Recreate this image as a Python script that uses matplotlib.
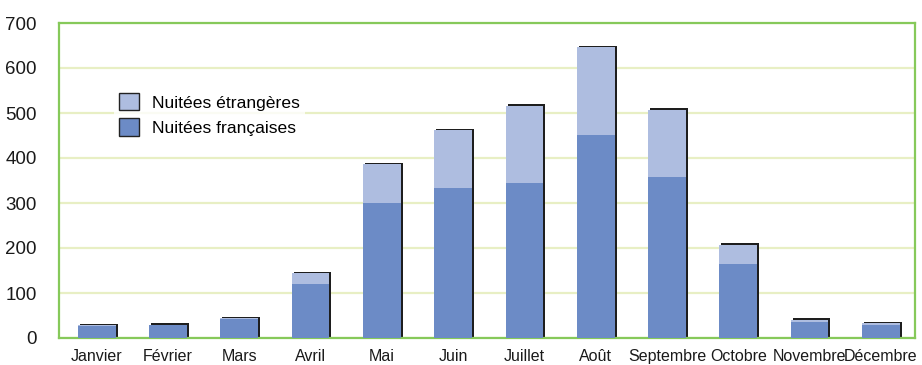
import matplotlib.pyplot as plt
import matplotlib.transforms as mtransforms
from matplotlib.patches import Patch
import numpy as np

plt.rcParams['font.family'] = ['Liberation Sans', 'DejaVu Sans']

# Nuitées par mois (milliers)
mois = ['Janvier', 'Février', 'Mars', 'Avril', 'Mai', 'Juin', 'Juillet',
        'Août', 'Septembre', 'Octobre', 'Novembre', 'Décembre']
francaises = [26, 28, 42, 121, 300, 333, 344, 451, 358, 164, 36, 29]
etrangeres = [2, 2, 2, 23, 86, 129, 172, 195, 149, 43, 5, 4]

c_fr = '#6c8bc6'
c_et = '#aebde0'
c_green = '#86c95a'
c_grid = '#e8efc4'

fig = plt.figure(figsize=(9.22, 3.65), dpi=100)
ax = fig.add_axes([59 / 922, 1 - 338 / 365, 856 / 922, 315 / 365])

x = np.arange(len(mois))
total = np.array(francaises) + np.array(etrangeres)
w = 0.53

# ombre portée noire, décalée vers la droite et le haut
shift = mtransforms.ScaledTranslation(2 / 100, 1.5 / 100, fig.dpi_scale_trans)
shadow = ax.bar(x, total, width=w, color='#1e1e1e', zorder=2)
for p in shadow:
    p.set_transform(ax.transData + shift)

ax.bar(x, francaises, width=w, color=c_fr, zorder=3)
ax.bar(x, etrangeres, bottom=francaises, width=w, color=c_et, zorder=3)

ax.set_xlim(-0.53, 11.48)
ax.set_ylim(0, 700)
ax.set_yticks(range(0, 701, 100))
ax.set_xticks(x)
ax.set_xticklabels(mois, fontsize=11.5)
ax.yaxis.grid(True, color=c_grid, linewidth=1.6, zorder=0)
ax.set_axisbelow(True)
ax.tick_params(axis='both', length=0, colors='#1a1a1a')
ax.tick_params(axis='y', pad=16, labelsize=13.5)
ax.tick_params(axis='x', pad=8)
for s in ax.spines.values():
    s.set_color(c_green)
    s.set_linewidth(1.6)

handles = [Patch(facecolor=c_et, edgecolor='#222222', linewidth=1.0),
           Patch(facecolor=c_fr, edgecolor='#222222', linewidth=1.0)]
leg = ax.legend(handles, ['Nuitées étrangères', 'Nuitées françaises'],
                loc='upper left', bbox_to_anchor=(105 / 922, 1 - 79 / 365),
                bbox_transform=fig.transFigure, frameon=True, fontsize=12.6,
                handlelength=1.15, handleheight=1.15, handletextpad=0.75,
                labelspacing=0.45, borderpad=0.3, fancybox=False)
leg.get_frame().set_facecolor('white')
leg.get_frame().set_edgecolor('none')
leg.set_zorder(5)

fig.savefig('out.png', dpi=100)
